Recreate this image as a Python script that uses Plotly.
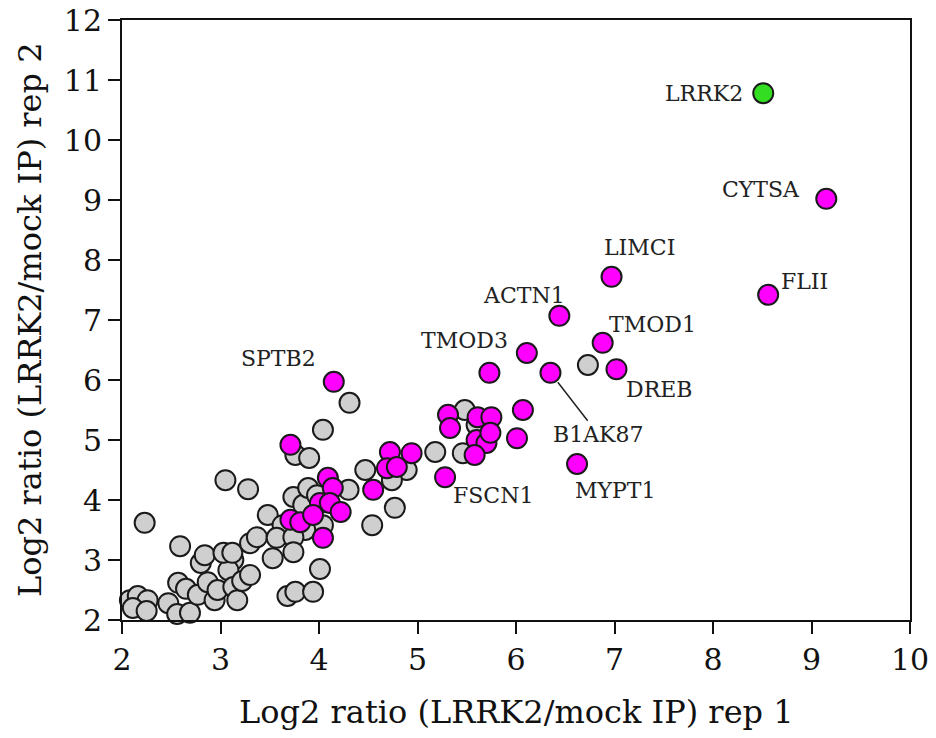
import plotly.graph_objects as go

# other interactors (grey)
grey_x = [2.08, 2.16, 2.26, 2.11, 2.25, 2.47, 2.56, 2.69, 2.23, 2.59, 2.57, 2.65, 2.77, 2.87,
          2.80, 2.84, 2.94, 2.97, 3.07, 3.13, 3.08, 3.13, 3.17, 3.22, 3.30, 3.03, 3.12, 3.30,
          3.37, 3.53, 3.05, 3.28, 3.48, 3.63, 3.74, 3.84, 3.89, 3.98, 3.76, 3.90, 4.04, 4.31,
          4.04, 3.86, 3.57, 3.74, 3.74, 4.01, 3.68, 3.76, 3.94, 4.30, 4.47, 4.89, 4.74, 4.77,
          4.54, 5.18, 5.46, 5.48, 5.66, 5.65, 5.60, 6.73]
grey_y = [2.33, 2.40, 2.33, 2.20, 2.15, 2.28, 2.10, 2.12, 3.62, 3.23, 2.62, 2.52, 2.42, 2.63,
          2.95, 3.08, 2.33, 2.50, 3.08, 3.00, 2.83, 2.55, 2.33, 2.65, 2.75, 3.12, 3.12, 3.28,
          3.38, 3.03, 4.33, 4.18, 3.75, 3.58, 4.05, 3.92, 4.20, 4.08, 4.75, 4.70, 5.17, 5.62,
          3.58, 3.50, 3.37, 3.38, 3.13, 2.85, 2.40, 2.47, 2.47, 4.17, 4.50, 4.50, 4.33, 3.87,
          3.58, 4.80, 4.78, 5.50, 5.33, 5.17, 5.25, 6.25]

# actin-related hits (magenta)
hit_x = [4.15, 3.71, 4.09, 4.14, 4.01, 4.11, 4.22, 3.71, 3.81, 3.94, 4.04, 4.72, 4.94, 4.69,
         4.79, 4.55, 5.31, 5.33, 5.61, 5.75, 5.60, 5.70, 5.74, 5.58, 5.28, 6.07, 6.01, 5.73,
         6.11, 6.35, 6.44, 6.97, 6.88, 7.02, 6.62, 8.56, 9.15]
hit_y = [5.97, 4.92, 4.37, 4.20, 3.95, 3.95, 3.80, 3.67, 3.63, 3.75, 3.37, 4.80, 4.78, 4.53,
         4.55, 4.17, 5.42, 5.20, 5.38, 5.38, 5.00, 4.95, 5.12, 4.75, 4.38, 5.50, 5.03, 6.12,
         6.45, 6.12, 7.07, 7.72, 6.62, 6.18, 4.60, 7.42, 9.02]

bait_x = [8.51]
bait_y = [10.78]

# labelled proteins
label_names = ["LRRK2", "CYTSA", "LIMCI", "FLII", "ACTN1", "TMOD1", "TMOD3", "SPTB2",
               "DREB", "B1AK87", "MYPT1", "FSCN1"]
label_x = [8.51, 9.15, 6.97, 8.56, 6.44, 6.88, 6.11, 4.15, 7.02, 6.35, 6.62, 5.28]
label_y = [10.78, 9.02, 7.72, 7.42, 7.07, 6.62, 6.45, 5.97, 6.18, 6.12, 4.60, 4.38]

# text offsets from the point, in pixels (xshift, yshift, xanchor)
label_pos = {
    "LRRK2": (-18, 0, "right"),
    "CYTSA": (-24, 9, "right"),
    "LIMCI": (28, 29, "center"),
    "FLII": (11, 13, "left"),
    "ACTN1": (-35, 20, "center"),
    "TMOD1": (4, 18, "left"),
    "TMOD3": (-17, 13, "right"),
    "SPTB2": (-16, 23, "right"),
    "DREB": (8, -20, "left"),
    "MYPT1": (-4, -26, "left"),
    "FSCN1": (6, -18, "left"),
}

font_family = "DejaVu Serif"
label_font = dict(family=font_family, size=22, color='#222')

fig = go.Figure()

def add_points(xs, ys, color):
    fig.add_trace(go.Scatter(
        x=xs, y=ys, mode='markers', cliponaxis=False,
        marker=dict(size=20, color=color, line=dict(color='#1a1a1a', width=2)),
        showlegend=False
    ))

add_points(grey_x, grey_y, '#CFCFCF')
add_points(hit_x, hit_y, '#FF00FF')
add_points(bait_x, bait_y, '#33DD22')

for name, x, y in zip(label_names, label_x, label_y):
    if name == "B1AK87":
        # label with a leader line
        fig.add_annotation(
            x=x, y=y, text=name, showarrow=True, arrowhead=0, arrowwidth=1.5,
            arrowcolor='#222', ax=48, ay=62, standoff=12, font=label_font
        )
    else:
        dx, dy, anchor = label_pos[name]
        fig.add_annotation(
            x=x, y=y, text=name, showarrow=False, xanchor=anchor,
            xshift=dx, yshift=dy, font=label_font
        )

# axis titles
title_font = dict(family=font_family, size=32, color='#111')
fig.add_annotation(text="Log2 ratio (LRRK2/mock IP) rep 1", xref='paper', yref='paper',
                   x=0.5, y=0, yanchor='middle', yshift=-92, showarrow=False, font=title_font)
fig.add_annotation(text="Log2 ratio (LRRK2/mock IP) rep 2", xref='paper', yref='paper',
                   x=0, y=0.5, xanchor='center', xshift=-92, textangle=-90,
                   showarrow=False, font=title_font)

axis_style = dict(
    dtick=1, showgrid=False, zeroline=False, automargin=False,
    showline=True, linecolor='#111', linewidth=2, mirror=True,
    ticks='outside', ticklen=12, tickwidth=1.5, tickcolor='#111',
    tickfont=dict(size=30), ticklabeloverflow='allow'
)

fig.update_layout(
    width=936, height=738,
    margin=dict(l=122, r=26, t=20, b=118),
    plot_bgcolor='white', paper_bgcolor='white',
    font=dict(family=font_family, color='#111'),
    xaxis=dict(axis_style, range=[2, 10]),
    yaxis=dict(axis_style, range=[2, 12])
)

# drop the browser's default page margin so the figure sits at the top-left corner
fig.write_html("out.html", config={'displayModeBar': False},
               post_script="document.body.style.margin='0';")
